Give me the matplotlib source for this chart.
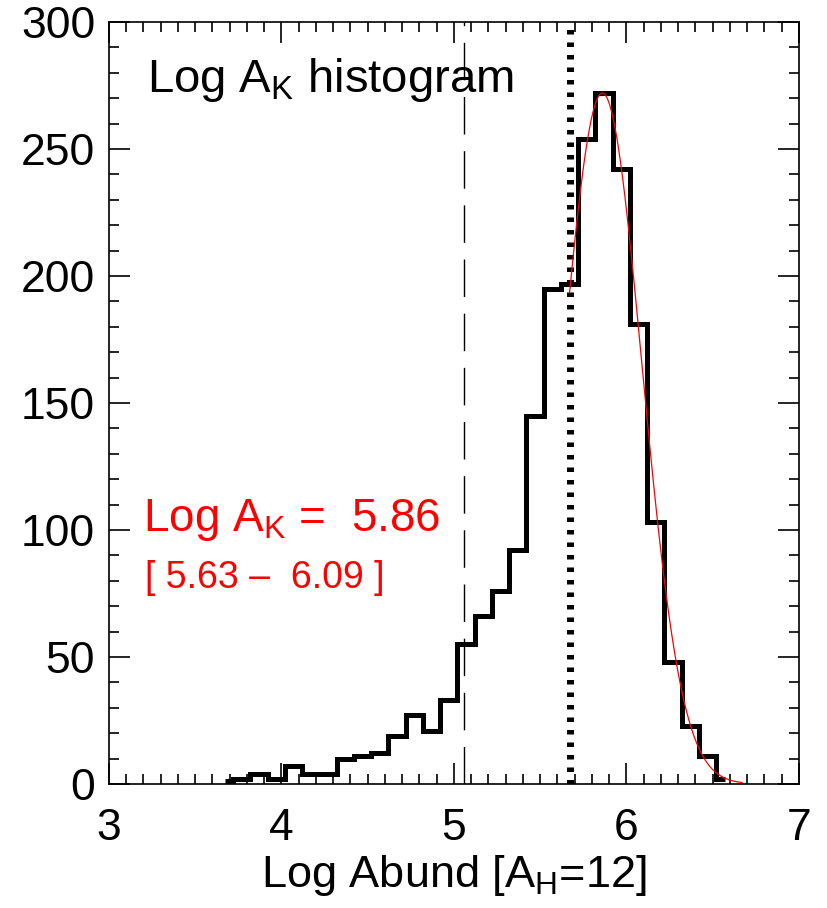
import matplotlib
matplotlib.use("Agg")
import matplotlib.pyplot as plt
import numpy as np
from matplotlib.ticker import MultipleLocator

plt.rcParams['font.family'] = ['Liberation Sans', 'DejaVu Sans']
plt.rcParams['mathtext.default'] = 'regular'

# histogram of log abundances (bin centres, counts per 0.1 dex bin)
bin_centers = [3.67, 3.77, 3.87, 3.97, 4.07, 4.17, 4.27, 4.37, 4.47, 4.57,
               4.67, 4.77, 4.87, 4.97, 5.07, 5.17, 5.27, 5.37, 5.47, 5.57,
               5.67, 5.77, 5.87, 5.97, 6.07, 6.17, 6.27, 6.37, 6.47, 6.57]
counts = [1, 2, 4, 2, 7, 4, 4, 10, 11, 12,
          19, 27, 21, 33, 55, 66, 76, 92, 145, 195,
          197, 254, 272, 242, 181, 103, 48, 23, 11, 2]

# gaussian fit to the upper part of the distribution
fit_peak = 5.86
fit_low, fit_high = 5.63, 6.09
fit_amp = 272
fit_range = (5.67, 6.67)

# reference lines
dashed_x = 5.06
dotted_x = 5.67

fig = plt.figure(figsize=(8.27, 9.08), dpi=100)
ax = fig.add_axes([0.1318, 0.1366, 0.8343, 0.8392])

ax.step(bin_centers, counts, where='mid', color='black', lw=3.6,
        solid_joinstyle='miter', solid_capstyle='butt', zorder=3)

ax.axvline(dashed_x, color='black', lw=1.0, linestyle=(0, (27, 12)), zorder=2)
ax.axvline(dotted_x, color='black', lw=5.0, linestyle=(0, (0.65, 1.15)),
           dash_capstyle='butt', zorder=4)

sigma = (fit_high - fit_low) / 2
xf = np.linspace(fit_range[0], fit_range[1], 300)
yf = fit_amp * np.exp(-(xf - fit_peak) ** 2 / (2 * sigma ** 2))
ax.plot(xf, yf, color='red', lw=0.9, zorder=5)

ax.set_xlim(3, 7)
ax.set_ylim(0, 300)
ax.set_xticks([3, 4, 5, 6, 7])
ax.set_yticks([0, 50, 100, 150, 200, 250, 300])
ax.xaxis.set_minor_locator(MultipleLocator(0.1))
ax.yaxis.set_minor_locator(MultipleLocator(10))
ax.tick_params(which='both', direction='in', top=True, right=True,
               labelsize=32, width=1.2)
ax.tick_params(which='major', length=15)
ax.tick_params(which='minor', length=7)
ax.tick_params(axis='x', pad=17)
ax.tick_params(axis='y', pad=10)
for s in ax.spines.values():
    s.set_linewidth(1.2)

ax.set_xlabel('Log Abund [A$_H$=12]', fontsize=32.5, labelpad=3)

ax.text(3.22, 277, 'Log A$_K$ histogram', fontsize=34, color='black',
        ha='left', va='center')
ax.text(3.2, 104, f'Log A$_K$ =  {fit_peak:.2f}', fontsize=33, color='red',
        ha='left', va='center')
ax.text(3.21, 81, f'[ {fit_low:.2f} \u2013  {fit_high:.2f} ]', fontsize=27,
        color='red', ha='left', va='center')

fig.savefig('out.png', dpi=100)
